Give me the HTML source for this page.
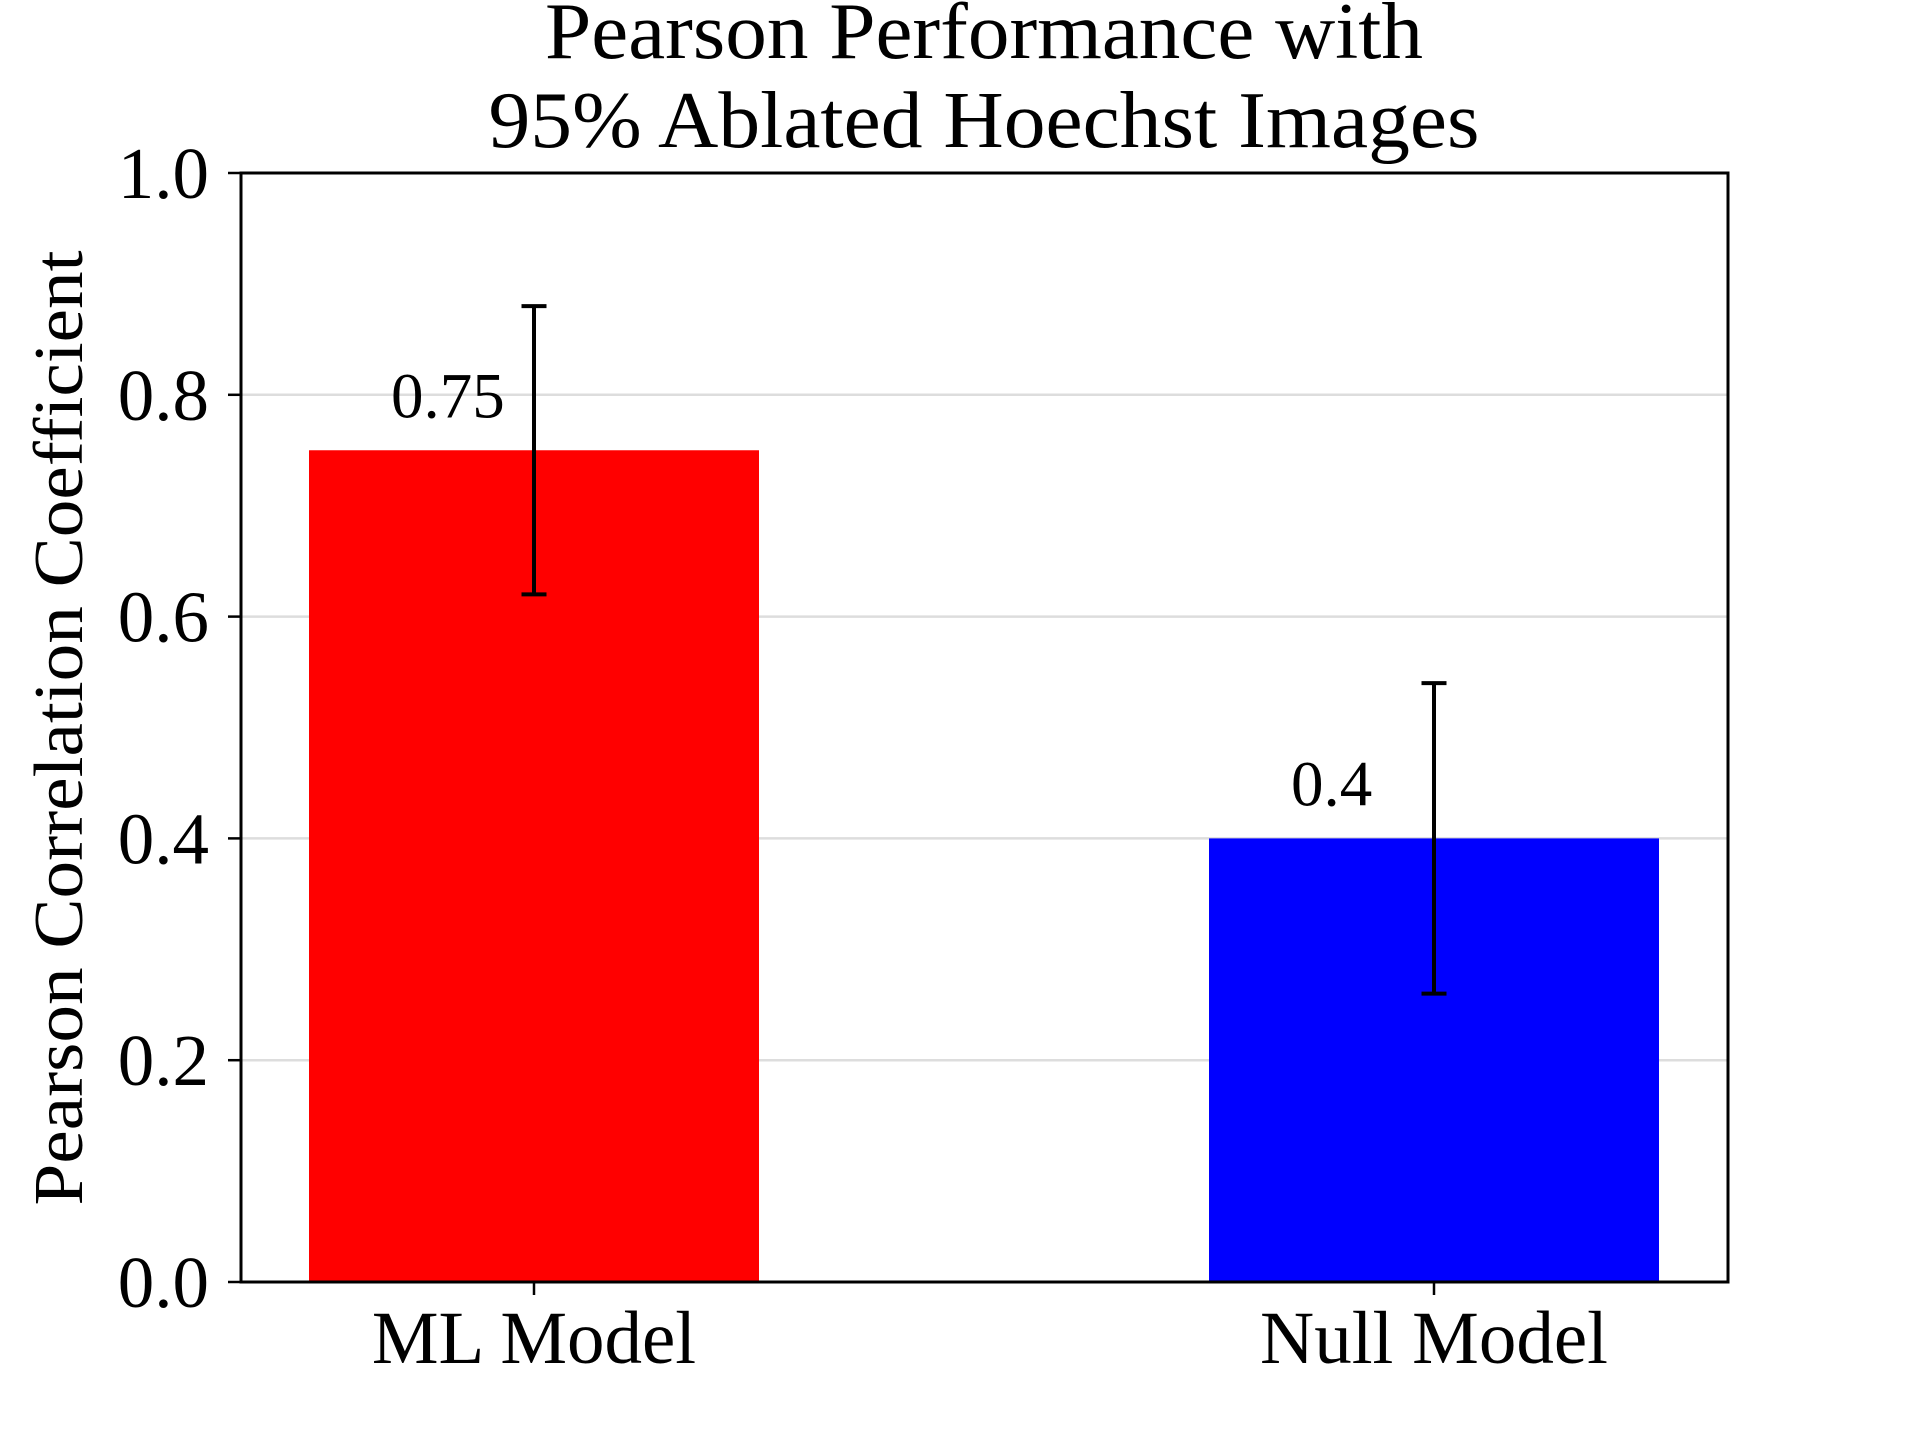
<!DOCTYPE html>
<html><head><meta charset="utf-8"><style>
html,body{margin:0;padding:0;background:#fff;}
svg{display:block;font-family:"Liberation Serif",serif;}
</style></head><body>
<svg id="chart" width="1920" height="1440" viewBox="0 0 1920 1440" xmlns="http://www.w3.org/2000/svg">
<text x="984" y="58" font-size="80" text-anchor="middle" textLength="878" lengthAdjust="spacingAndGlyphs">Pearson Performance with</text>
<text x="984" y="147" font-size="80" text-anchor="middle" textLength="991" lengthAdjust="spacingAndGlyphs">95% Ablated Hoechst Images</text>
<text transform="translate(82,728) rotate(-90)" font-size="70" text-anchor="middle" textLength="955" lengthAdjust="spacingAndGlyphs">Pearson Correlation Coefficient</text>
<g id="grid"></g>
<g id="bars"></g>
<g id="axes"></g>
</svg>
<script>
const categories = ["ML Model", "Null Model"];
const values = [0.75, 0.4];
const errLow = [0.62, 0.26];
const errHigh = [0.88, 0.54];
const valueLabels = ["0.75", "0.4"];
const barColors = ["#ff0000", "#0000ff"];
const yTicks = [0.0, 0.2, 0.4, 0.6, 0.8, 1.0];
const yTickLabels = ["0.0", "0.2", "0.4", "0.6", "0.8", "1.0"];

const NS = "http://www.w3.org/2000/svg";
const L = 241, R = 1728, T = 173, B = 1282;
const x0 = 534, pxPerUnit = 900, barW = 0.5;
function xs(i){ return x0 + i * pxPerUnit; }
function ys(v){ return B - v * (B - T); }
function mk(tag, attrs, parent){ const e = document.createElementNS(NS, tag); for (const k in attrs) e.setAttribute(k, attrs[k]); parent.appendChild(e); return e; }

const grid = document.getElementById('grid');
const bars = document.getElementById('bars');
const axes = document.getElementById('axes');

yTicks.forEach((t, i) => {
  if (t > 0 && t < 1) {
    const g = mk('line', {x1: L, x2: R, y1: ys(t), y2: ys(t), stroke: '#dddddd', 'stroke-width': 2.5}, grid);
    
    
  }
  const tk = mk('line', {x1: L - 13, x2: L, y1: ys(t), y2: ys(t), stroke: '#000', 'stroke-width': 2.5}, axes);
  
  
  const lb = mk('text', {x: 209, y: ys(t) + 25, 'font-size': 73, 'text-anchor': 'end'}, axes);
  lb.textContent = yTickLabels[i];
  
  
});

categories.forEach((c, i) => {
  const cx = xs(i);
  const w = barW * pxPerUnit;
  const r = mk('rect', {x: cx - w / 2, y: ys(values[i]), width: w, height: ys(0) - ys(values[i]), fill: barColors[i]}, bars);
  
  
  const el = mk('line', {x1: cx, x2: cx, y1: ys(errHigh[i]), y2: ys(errLow[i]), stroke: '#000', 'stroke-width': 4}, bars);
  
  
  [errHigh[i], errLow[i]].forEach(v => {
    const cap = mk('line', {x1: cx - 12.5, x2: cx + 12.5, y1: ys(v), y2: ys(v), stroke: '#000', 'stroke-width': 4}, bars);
    
    
  });
  const vl = mk('text', {x: cx - 143, y: ys(values[i]) - 33, 'font-size': 65}, bars);
  vl.textContent = valueLabels[i];
  
  
  const xt = mk('line', {x1: cx, x2: cx, y1: B, y2: B + 13, stroke: '#000', 'stroke-width': 2.5}, axes);
  
  
  const xl = mk('text', {x: cx, y: 1363, 'font-size': 75, 'text-anchor': 'middle'}, axes);
  xl.textContent = c;
  
  
});

const frame = mk('rect', {x: L, y: T, width: R - L, height: B - T, fill: 'none', stroke: '#000', 'stroke-width': 3}, axes);


</script>
</body></html>
